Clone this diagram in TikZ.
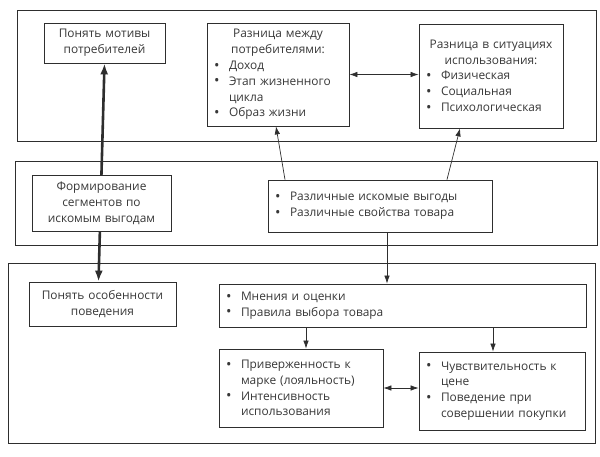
\documentclass[tikz,border=0pt]{standalone}
\usepackage{fontspec}
\setmainfont{Open Sans}
\usetikzlibrary{arrows.meta}
\definecolor{ink}{gray}{0.18}
\definecolor{txt}{gray}{0.22}
\newcommand\bul{\makebox[15pt][l]{\raisebox{-0.6pt}{\fontsize{14.5}{14.5}\selectfont\textbullet}}}
\newcommand\ind{\hspace*{15pt}}
\newcommand\ctrline[2]{\makebox[#1pt][c]{#2}}
\begin{document}
\begin{tikzpicture}[x=1pt,y=-1pt,
  panel/.style={draw=ink, line width=0.9pt, inner sep=0pt},
  box/.style={draw=ink, line width=0.8pt, fill=white, inner xsep=7pt, inner ysep=2pt,
    font=\fontsize{11.9}{15.8}\selectfont, text=txt},
  arr/.style={draw=ink, line width=0.7pt, -{Latex[length=8pt,width=5.5pt]}},
  darr/.style={draw=ink, line width=0.7pt, {Latex[length=8pt,width=5.5pt]}-{Latex[length=8pt,width=5.5pt]}},
  bigarr/.style={draw=ink, line width=2.6pt, {Latex[length=11pt,width=8pt]}-{Latex[length=11pt,width=8pt]}}
]
\useasboundingbox (0,0) rectangle (600,456);
% panels
\node[panel, minimum width=579, minimum height=131] (P1) at (306.5,75.5) {};
\node[panel, minimum width=582, minimum height=84] (P2) at (306,203) {};
\node[panel, minimum width=587, minimum height=180] (P3) at (301.5,353) {};
% boxes
\node[box, text width=107, align=center, minimum height=40] (A) at (104.5,43)
  {Понять мотивы\\потребителей};
\node[box, text width=133, align=center, minimum height=44] (E) at (102.5,304)
  {Понять особенности\\поведения};
\node[box, text width=128, align=left, minimum height=103] (B) at (278,74.5)
  {\ctrline{128}{Разница между}\\\ctrline{128}{потребителями:}\\
   \bul Доход\\\bul Этап жизненного\\\ind цикла\\\bul Образ жизни};
\node[box, text width=130, align=left, minimum height=104] (C) at (491,76)
  {\ctrline{130}{Разница в ситуациях}\\\ctrline{130}{использования:}\\
   \bul Физическая\\\bul Социальная\\\bul Психологическая};
\node[box, text width=210, align=left, minimum height=52] (F) at (380,206)
  {\bul Различные искомые выгоды\\\bul Различные свойства товара};
\node[box, text width=353, align=left, minimum height=43] (G) at (402.5,305.5)
  {\bul Мнения и оценки\\\bul Правила выбора товара};
\node[box, text width=150, align=left, minimum height=78] (H) at (301,388)
  {\bul Приверженность к\\\ind марке (лояльность)\\\bul Интенсивность\\\ind использования};
\node[box, text width=152, align=left, minimum height=78] (I) at (502,391)
  {\bul Чувствительность к\\\ind цене\\\bul Поведение при\\\ind совершении покупки};
% thick arrow through D
\draw[bigarr] (A.south) -- ([xshift=-4pt]E.north);
\node[box, text width=125, align=center, minimum height=56] (D) at (101.5,203)
  {Формирование\\сегментов по\\искомым выгодам};
% connectors
\draw[darr] (B.east) -- (B.east -| C.west);
\draw[arr] ([xshift=-95pt]F.north) -- ([xshift=-2pt]B.south);
\draw[arr] ([xshift=67pt]F.north) -- ([xshift=-31pt]C.south);
\draw[arr] ([xshift=7pt]F.south) -- ([xshift=7pt]F.south |- G.north);
\draw[arr] ([xshift=5pt]H.north |- G.south) -- ([xshift=5pt]H.north);
\draw[arr] ([xshift=-9pt]I.north |- G.south) -- ([xshift=-9pt]I.north);
\draw[darr] (H.east) -- (H.east -| I.west);
\end{tikzpicture}
\end{document}
